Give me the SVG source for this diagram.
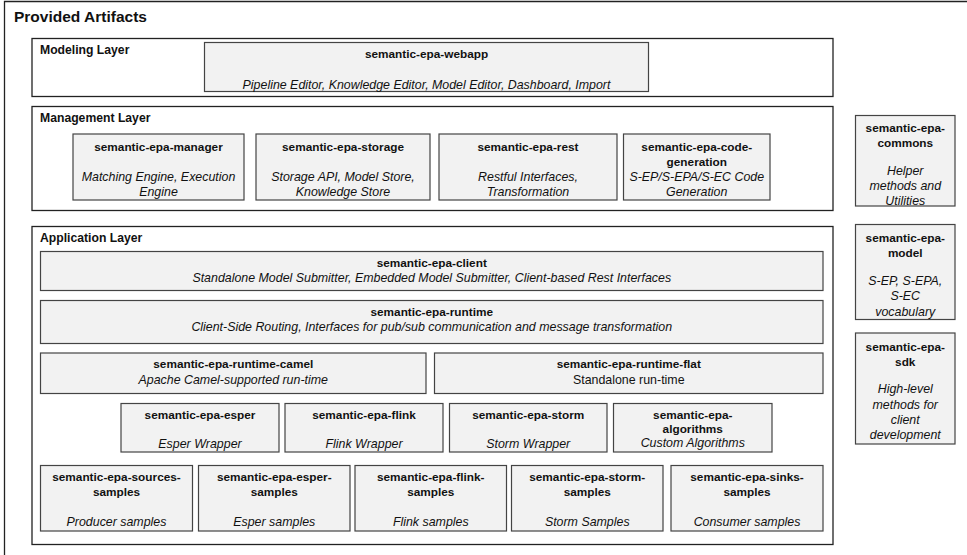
<svg xmlns="http://www.w3.org/2000/svg" width="967" height="555" viewBox="0 0 967 555">
  <style>
    .frame { fill: none; stroke: #222; stroke-width: 1.3; }
    .layer { fill: #fff; stroke: #222; stroke-width: 1.3; }
    .box { fill: #f2f2f2; stroke: #444; stroke-width: 1.2; }
    text { font-family: "Liberation Sans", Arial, sans-serif; fill: #111; }
    .h1 { font-size: 15.5px; font-weight: bold; }
    .lbl { font-size: 12.2px; font-weight: bold; }
    .t { font-size: 11.8px; font-weight: bold; text-anchor: middle; }
    .d { font-size: 12.4px; font-style: italic; text-anchor: middle; }
    .n { font-size: 12.4px; text-anchor: middle; }
  </style>

  <rect width="967" height="555" fill="#fff"/>
  <!-- outer frame (open on the right and bottom) -->
  <path class="frame" d="M4.5,555 V1.5 H967"/>
  <text class="h1" x="14" y="22">Provided Artifacts</text>

  <!-- layer frames -->
  <g id="modeling-layer">
    <rect class="layer" x="32" y="38.5" width="801" height="58"/>
    <text class="lbl" x="40" y="54">Modeling Layer</text>
  </g>
  <g id="management-layer">
    <rect class="layer" x="32" y="106.5" width="801" height="104"/>
    <text class="lbl" x="40" y="122">Management Layer</text>
  </g>
  <g id="application-layer">
    <rect class="layer" x="32" y="226.5" width="801" height="318"/>
    <text class="lbl" x="40" y="242">Application Layer</text>
  </g>

  <!-- modeling layer -->
  <g id="webapp">
    <rect class="box" x="204.5" y="42.5" width="444" height="49"/>
    <text class="t" x="426.5" y="57.5">semantic-epa-webapp</text>
    <text class="d" x="426.5" y="88.5">Pipeline Editor, Knowledge Editor, Model Editor, Dashboard, Import</text>
  </g>

  <!-- management layer -->
  <g id="manager">
    <rect class="box" x="73" y="134" width="171" height="66"/>
    <text class="t" x="158.5" y="150.5">semantic-epa-manager</text>
    <text class="d" x="158.5" y="180.5">Matching Engine, Execution</text>
    <text class="d" x="158.5" y="195.5">Engine</text>
  </g>
  <g id="storage">
    <rect class="box" x="256" y="134" width="174" height="66"/>
    <text class="t" x="343" y="150.5">semantic-epa-storage</text>
    <text class="d" x="343" y="180.5">Storage API, Model Store,</text>
    <text class="d" x="343" y="195.5">Knowledge Store</text>
  </g>
  <g id="rest">
    <rect class="box" x="439" y="134" width="178" height="66"/>
    <text class="t" x="528" y="150.5">semantic-epa-rest</text>
    <text class="d" x="528" y="180.5">Restful Interfaces,</text>
    <text class="d" x="528" y="195.5">Transformation</text>
  </g>
  <g id="code-generation">
    <rect class="box" x="623.5" y="134" width="146.5" height="66"/>
    <text class="t" x="696.75" y="150.5">semantic-epa-code-</text>
    <text class="t" x="696.75" y="165.5">generation</text>
    <text class="d" x="696.75" y="180.5">S-EP/S-EPA/S-EC Code</text>
    <text class="d" x="696.75" y="195.5">Generation</text>
  </g>

  <!-- application layer -->
  <g id="client">
    <rect class="box" x="40.5" y="251.5" width="782.5" height="39"/>
    <text class="t" x="431.75" y="266.5">semantic-epa-client</text>
    <text class="d" x="431.75" y="281.5">Standalone Model Submitter, Embedded Model Submitter, Client-based Rest Interfaces</text>
  </g>
  <g id="runtime">
    <rect class="box" x="40.5" y="300.5" width="782.5" height="43"/>
    <text class="t" x="431.75" y="315.5">semantic-epa-runtime</text>
    <text class="d" x="431.75" y="331">Client-Side Routing, Interfaces for pub/sub communication and message transformation</text>
  </g>
  <g id="runtime-camel">
    <rect class="box" x="40.5" y="353" width="385.5" height="40.5"/>
    <text class="t" x="233.25" y="368">semantic-epa-runtime-camel</text>
    <text class="d" x="233.25" y="383.5">Apache Camel-supported run-time</text>
  </g>
  <g id="runtime-flat">
    <rect class="box" x="434.5" y="353" width="388.5" height="40.5"/>
    <text class="t" x="628.75" y="368">semantic-epa-runtime-flat</text>
    <text class="n" x="628.75" y="383.5">Standalone run-time</text>
  </g>

  <g id="esper">
    <rect class="box" x="121" y="403.5" width="158" height="48.5"/>
    <text class="t" x="200" y="418.5">semantic-epa-esper</text>
    <text class="d" x="200" y="447.5">Esper Wrapper</text>
  </g>
  <g id="flink">
    <rect class="box" x="285" y="403.5" width="158" height="48.5"/>
    <text class="t" x="364" y="418.5">semantic-epa-flink</text>
    <text class="d" x="364" y="447.5">Flink Wrapper</text>
  </g>
  <g id="storm">
    <rect class="box" x="449.5" y="403.5" width="157.5" height="48.5"/>
    <text class="t" x="528.25" y="418.5">semantic-epa-storm</text>
    <text class="d" x="528.25" y="447.5">Storm Wrapper</text>
  </g>
  <g id="algorithms">
    <rect class="box" x="613.5" y="403.5" width="158.5" height="48.5"/>
    <text class="t" x="692.75" y="418.5">semantic-epa-</text>
    <text class="t" x="692.75" y="432.5">algorithms</text>
    <text class="d" x="692.75" y="446.5">Custom Algorithms</text>
  </g>

  <g id="sources-samples">
    <rect class="box" x="40.5" y="465.5" width="152" height="65.5"/>
    <text class="t" x="116.5" y="480.5">semantic-epa-sources-</text>
    <text class="t" x="116.5" y="495.5">samples</text>
    <text class="d" x="116.5" y="525.5">Producer samples</text>
  </g>
  <g id="esper-samples">
    <rect class="box" x="198.5" y="465.5" width="151.5" height="65.5"/>
    <text class="t" x="274.25" y="480.5">semantic-epa-esper-</text>
    <text class="t" x="274.25" y="495.5">samples</text>
    <text class="d" x="274.25" y="525.5">Esper samples</text>
  </g>
  <g id="flink-samples">
    <rect class="box" x="355" y="465.5" width="151.5" height="65.5"/>
    <text class="t" x="430.75" y="480.5">semantic-epa-flink-</text>
    <text class="t" x="430.75" y="495.5">samples</text>
    <text class="d" x="430.75" y="525.5">Flink samples</text>
  </g>
  <g id="storm-samples">
    <rect class="box" x="511.5" y="465.5" width="151.5" height="65.5"/>
    <text class="t" x="587.25" y="480.5">semantic-epa-storm-</text>
    <text class="t" x="587.25" y="495.5">samples</text>
    <text class="d" x="587.25" y="525.5">Storm Samples</text>
  </g>
  <g id="sinks-samples">
    <rect class="box" x="671" y="465.5" width="152" height="65.5"/>
    <text class="t" x="747" y="480.5">semantic-epa-sinks-</text>
    <text class="t" x="747" y="495.5">samples</text>
    <text class="d" x="747" y="525.5">Consumer samples</text>
  </g>

  <!-- cross-cutting modules -->
  <g id="commons">
    <rect class="box" x="855.5" y="115.5" width="99.5" height="90.5"/>
    <text class="t" x="905.25" y="131.5">semantic-epa-</text>
    <text class="t" x="905.25" y="146.5">commons</text>
    <text class="d" x="905.25" y="174.5">Helper</text>
    <text class="d" x="905.25" y="189.5">methods and</text>
    <text class="d" x="905.25" y="204.5">Utilities</text>
  </g>
  <g id="model">
    <rect class="box" x="855.5" y="224.5" width="99.5" height="95"/>
    <text class="t" x="905.25" y="241.5">semantic-epa-</text>
    <text class="t" x="905.25" y="256.5">model</text>
    <text class="d" x="905.25" y="284.5">S-EP, S-EPA,</text>
    <text class="d" x="905.25" y="299.5">S-EC</text>
    <text class="d" x="905.25" y="315.5">vocabulary</text>
  </g>
  <g id="sdk">
    <rect class="box" x="855.5" y="333" width="99.5" height="111"/>
    <text class="t" x="905.25" y="350.5">semantic-epa-</text>
    <text class="t" x="905.25" y="365.5">sdk</text>
    <text class="d" x="905.25" y="392.5">High-level</text>
    <text class="d" x="905.25" y="408.5">methods for</text>
    <text class="d" x="905.25" y="423.5">client</text>
    <text class="d" x="905.25" y="438.5">development</text>
  </g>

  <g id="connectors"/>
</svg>
